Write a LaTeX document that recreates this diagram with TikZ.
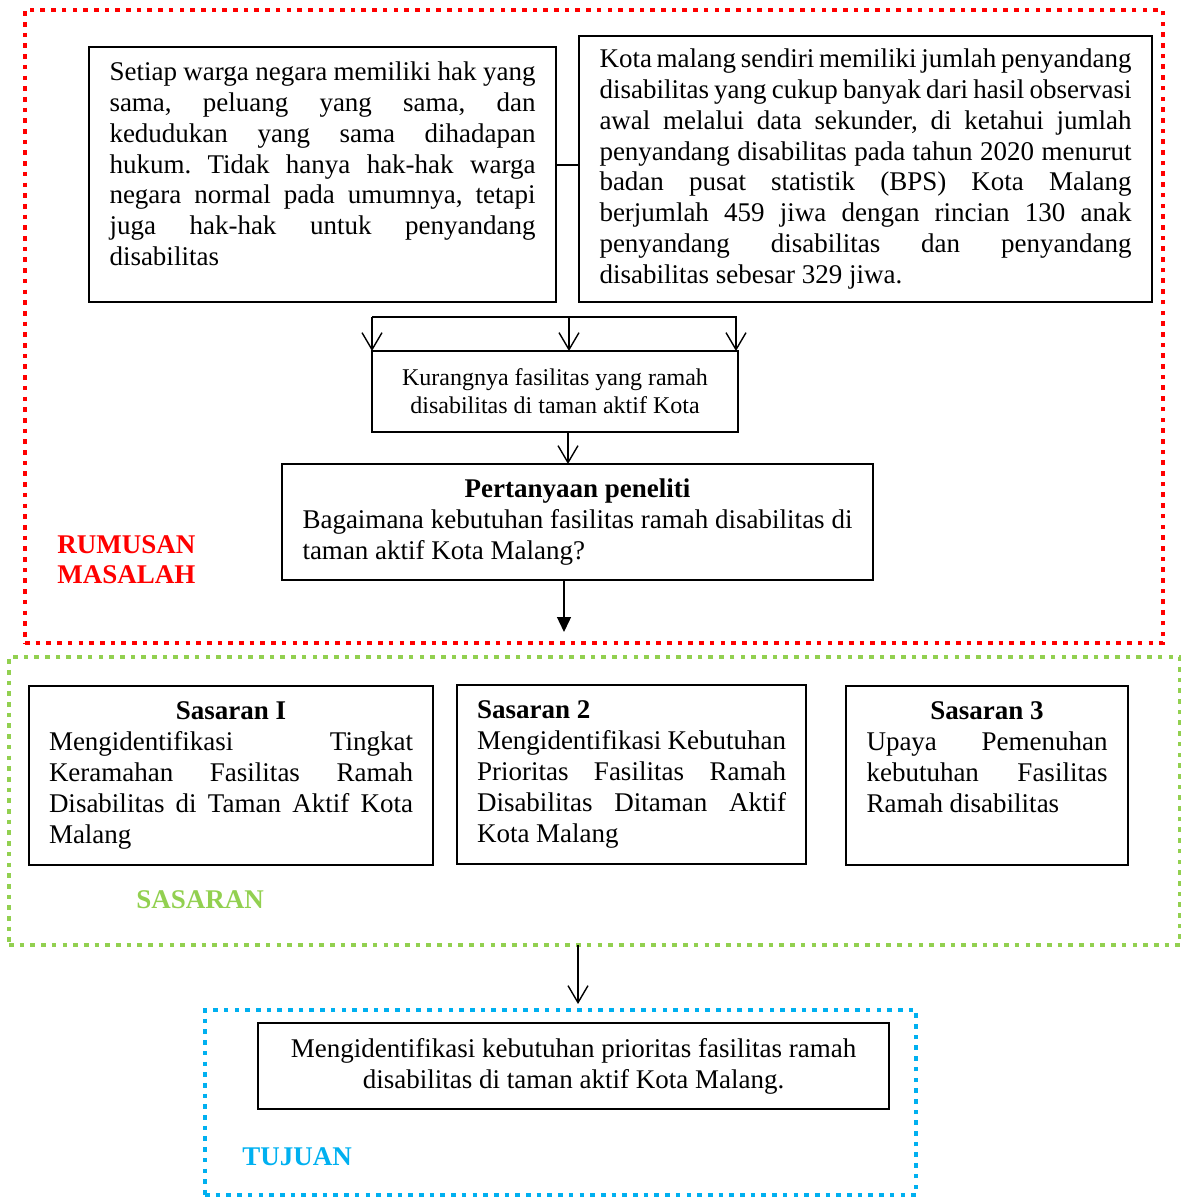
\documentclass[tikz,border=0pt]{standalone}
\usepackage{fontspec}
\setmainfont{Liberation Serif}
\usetikzlibrary{arrows.meta}
\setlength{\parindent}{0pt}
\frenchspacing
\definecolor{rmred}{HTML}{FF0000}
\definecolor{ssgreen}{HTML}{92D050}
\definecolor{tjblue}{HTML}{00B0F0}
\newcommand\bxfont{\fontsize{13.5}{15.4}\selectfont\frenchspacing}
\tikzset{
  box/.style={draw, line width=0.7pt, inner sep=0pt, outer sep=0pt, anchor=north west},
  frame/.style={line width=2.3pt, dash pattern=on 2.3pt off 3.05pt, inner sep=0pt, outer sep=0pt, anchor=north west},
  arr/.style={line width=0.7pt, -{Straight Barb[length=8.5pt,width=10pt]}},
  farr/.style={line width=0.7pt, -{Triangle[length=7.5pt,width=7pt]}},
  conn/.style={line width=0.7pt},
  lbl/.style={inner sep=0pt, anchor=west, align=left, font=\fontsize{13.5}{15}\selectfont\bfseries}
}
\begin{document}
\begin{tikzpicture}[x=0.5pt,y=-0.5pt]
\useasboundingbox (0,0) rectangle (1181,1198);
% dotted frames
\node[frame, draw=rmred, minimum width=569pt, minimum height=316.5pt] (R) at (25,10) {};
\node[frame, draw=ssgreen, minimum width=585.5pt, minimum height=144pt] (G) at (9,657) {};
\node[frame, draw=tjblue, minimum width=355.5pt, minimum height=92.5pt] (U) at (205,1010) {};
% top boxes
\node[box, minimum width=233.5pt, minimum height=127.5pt] (A) at (89,47) {\parbox[c][112.5pt][t]{213pt}{\bxfont Setiap warga negara memiliki hak yang\linebreak sama, peluang yang sama, dan\linebreak kedudukan yang sama dihadapan\linebreak hukum. Tidak hanya hak-hak warga\linebreak negara normal pada umumnya, tetapi\linebreak juga hak-hak untuk penyandang\linebreak disabilitas}};
\node[box, minimum width=286.5pt, minimum height=133pt] (B) at (579,36) {\parbox{266pt}{\bxfont Kota malang sendiri memiliki jumlah penyandang\linebreak disabilitas yang cukup banyak dari hasil observasi\linebreak awal melalui data sekunder, di ketahui jumlah\linebreak penyandang disabilitas pada tahun 2020 menurut\linebreak badan pusat statistik (BPS) Kota Malang\linebreak berjumlah 459 jiwa dengan rincian 130 anak\linebreak penyandang disabilitas dan penyandang\linebreak disabilitas sebesar 329 jiwa.}};
\node[box, minimum width=183pt, minimum height=40.5pt, align=center, font=\fontsize{12}{14}\selectfont] (C) at (372,351) {Kurangnya fasilitas yang ramah\\disabilitas di taman aktif Kota};
\node[box, minimum width=295.5pt, minimum height=58pt] (D) at (282,464) {\parbox{275pt}{\bxfont{\centering\textbf{Pertanyaan peneliti}\par}Bagaimana kebutuhan fasilitas ramah disabilitas di\linebreak taman aktif Kota Malang?}};
% sasaran boxes
\node[box, minimum width=202pt, minimum height=89.5pt] (S1) at (29,686) {\parbox{182pt}{\bxfont{\centering\textbf{Sasaran I}\par}Mengidentifikasi Tingkat\linebreak Keramahan Fasilitas Ramah\linebreak Disabilitas di Taman Aktif Kota\linebreak Malang}};
\node[box, minimum width=174.5pt, minimum height=89.5pt] (S2) at (457,685) {\parbox{154.5pt}{\bxfont\textbf{Sasaran 2}\par Mengidentifikasi Kebutuhan\linebreak Prioritas Fasilitas Ramah\linebreak Disabilitas Ditaman Aktif\linebreak Kota Malang}};
\node[box, minimum width=141pt, minimum height=89.5pt] (S3) at (846,686) {\parbox[c][73.5pt][t]{120.5pt}{\bxfont{\centering\textbf{Sasaran 3}\par}Upaya Pemenuhan\linebreak kebutuhan Fasilitas\linebreak Ramah disabilitas}};
% tujuan box
\node[box, minimum width=315.5pt, minimum height=43pt, align=center, font=\bxfont] (T) at (258,1023) {Mengidentifikasi kebutuhan prioritas fasilitas ramah\\disabilitas di taman aktif Kota Malang.};
% labels
\node[lbl, text=rmred] (LR) at (57,560) {RUMUSAN\\MASALAH};
\node[lbl, text=ssgreen] (LS) at (136,900) {SASARAN};
\node[lbl, text=tjblue] (LT) at (242,1157) {TUJUAN};
% connectors
\coordinate (ab) at (567,165);
\draw[conn] (A.east |- ab) -- (B.west |- ab);
\coordinate (h1) at (372,317);
\coordinate (h2) at (569,317);
\coordinate (h3) at (736,317);
\coordinate (h3e) at (737,317);
\draw[conn] (h1) -- (h3e);
\draw[arr] (h1) -- (h1 |- C.north);
\draw[arr] (h2) -- (h2 |- C.north);
\draw[arr] (h3) -- (h3 |- C.north);
\coordinate (cd) at (568,0);
\draw[arr] (C.south -| cd) -- (D.north -| cd);
\coordinate (dr) at (564,632);
\draw[farr] (D.south -| dr) -- (dr);
\coordinate (gt) at (578,1004);
\draw[arr] (G.south -| gt) -- (gt);
\end{tikzpicture}
\end{document}
